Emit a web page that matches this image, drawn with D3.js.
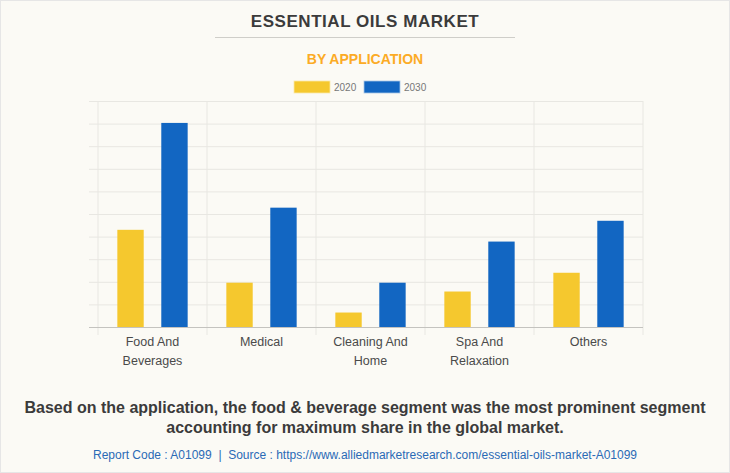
<!DOCTYPE html>
<html>
<head>
<meta charset="utf-8">
<script src="https://cdn.jsdelivr.net/npm/d3@7"></script>
<style>
html, body { margin: 0; padding: 0; background: #fbfaf5; }
svg { display: block; font-family: "Liberation Sans", Arial, sans-serif; }
</style>
</head>
<body>
<svg id="chart" width="730" height="473"></svg>
<script>
var categories = [["Food And", "Beverages"], ["Medical"], ["Cleaning And", "Home"], ["Spa And", "Relaxation"], ["Others"]];
var years = ["2020", "2030"];
var values2020 = [4.3, 1.96, 0.64, 1.57, 2.4];
var values2030 = [9.03, 5.28, 1.96, 3.78, 4.7];
var yTicks = [0, 1, 2, 3, 4, 5, 6, 7, 8, 9, 10];
var colors = ["#f5c82e", "#1266c2"];

var svg = d3.select("#chart");
var margin = { top: 101, right: 87, bottom: 146, left: 98 };
var width = +svg.attr("width") - margin.left - margin.right;
var height = +svg.attr("height") - margin.top - margin.bottom;

// page frame
svg.append("rect").attr("x", 0.5).attr("y", 0.5).attr("width", 729).attr("height", 472)
	.attr("fill", "#fbfaf5").attr("stroke", "#e6e6e6");

// headings
svg.append("text").attr("x", 365).attr("y", 27).attr("text-anchor", "middle")
	.attr("font-size", 17).attr("font-weight", "bold").attr("letter-spacing", 0.55)
	.attr("fill", "#3b3b3b").text("ESSENTIAL OILS MARKET");
svg.append("line").attr("x1", 215).attr("x2", 515).attr("y1", 37.5).attr("y2", 37.5)
	.attr("stroke", "#cfcec9");
svg.append("text").attr("x", 365).attr("y", 64).attr("text-anchor", "middle")
	.attr("font-size", 14).attr("font-weight", "bold").attr("fill", "#fbab25")
	.text("BY APPLICATION");

// legend
var legendX = d3.scaleOrdinal().domain(years).range([294, 364]);
var legend = svg.append("g").selectAll("g").data(years).enter().append("g")
	.attr("transform", function(d) { return "translate(" + legendX(d) + ",81)"; });
legend.append("rect").attr("width", 36).attr("height", 12)
	.attr("fill", function(d, i) { return colors[i]; })
	.attr("stroke", function(d, i) { return i ? "#a9c6e6" : "#fbe9a8"; }).attr("stroke-width", 0.8);
legend.append("text").attr("x", 40).attr("y", 10).attr("font-size", 10)
	.attr("fill", "#777777").text(function(d) { return d; });

var x0 = d3.scaleBand().domain(d3.range(categories.length)).range([0, width]);
var x1 = d3.scaleBand().domain(years).range([0, x0.bandwidth()]).paddingInner(0.4).paddingOuter(0.44);
var y = d3.scaleLinear().domain([0, 10]).range([height, 0]);

var g = svg.append("g").attr("transform", "translate(" + margin.left + "," + margin.top + ")");

// horizontal grid, with the little tick to the left
var yAxis = g.append("g").call(d3.axisLeft(y).tickValues(yTicks).tickSize(-width).tickPadding(8).tickFormat(""));
yAxis.select(".domain").remove();
yAxis.selectAll("line").attr("x1", -9).attr("x2", width).attr("stroke", "#e8e7e2").attr("stroke-width", 1);

// vertical grid
var xGrid = d3.range(categories.length + 1);
g.append("g").selectAll("line").data(xGrid).enter().append("line")
	.attr("x1", function(d) { return d < categories.length ? x0(d) : width; })
	.attr("x2", function(d) { return d < categories.length ? x0(d) : width; })
	.attr("y1", 0).attr("y2", height + 8)
	.attr("stroke", "#e8e7e2").attr("stroke-width", 1);

// bars
var groups = g.append("g").selectAll("g").data(categories).enter().append("g")
	.attr("transform", function(d, i) { return "translate(" + x0(i) + ",0)"; });
groups.append("rect").attr("class", "bar")
	.attr("x", x1("2020")).attr("width", x1.bandwidth())
	.attr("y", function(d, i) { return y(values2020[i]); })
	.attr("height", function(d, i) { return height - y(values2020[i]); })
	.attr("fill", colors[0]);
groups.append("rect").attr("class", "bar")
	.attr("x", x1("2030")).attr("width", x1.bandwidth())
	.attr("y", function(d, i) { return y(values2030[i]); })
	.attr("height", function(d, i) { return height - y(values2030[i]); })
	.attr("fill", colors[1]);

// baseline
g.append("line").attr("x1", -9).attr("x2", width).attr("y1", height + 0.5).attr("y2", height + 0.5)
	.attr("stroke", "#c4c3bf");

// category labels, wrapped on two lines
groups.each(function(d) {
	var t = d3.select(this).append("text").attr("text-anchor", "middle")
		.attr("font-size", 12.5).attr("fill", "#4a4a4a");
	d.forEach(function(line, i) {
		t.append("tspan").attr("x", x0.bandwidth() / 2).attr("y", height + 19 + i * 19).text(line);
	});
});

// footer
svg.append("text").attr("x", 365).attr("y", 413).attr("text-anchor", "middle")
	.attr("font-size", 16).attr("font-weight", "bold").attr("fill", "#3b3b3b")
	.text("Based on the application, the food & beverage segment was the most prominent segment");
svg.append("text").attr("x", 365).attr("y", 433).attr("text-anchor", "middle")
	.attr("font-size", 16).attr("font-weight", "bold").attr("fill", "#3b3b3b")
	.text("accounting for maximum share in the global market.");
svg.append("text").attr("x", 365).attr("y", 459).attr("text-anchor", "middle")
	.attr("font-size", 12).attr("fill", "#2a6ab5").attr("xml:space", "preserve")
	.text("Report Code : A01099  |  Source : https://www.alliedmarketresearch.com/essential-oils-market-A01099");
</script>
</body>
</html>
